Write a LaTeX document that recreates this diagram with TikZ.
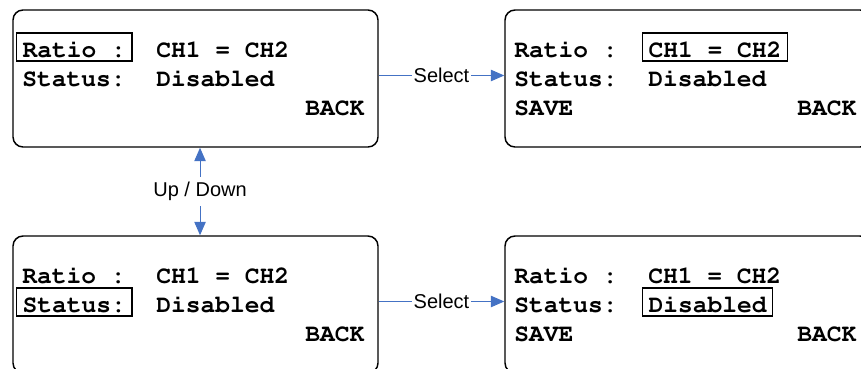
\documentclass[tikz,border=0pt]{standalone}
\usepackage[T1,TU]{fontenc}
\usepackage{fontspec}
\setmainfont{Liberation Sans}
\newcommand\lcdfont{\fontencoding{T1}\fontfamily{pcr}\fontseries{b}\selectfont}
\usetikzlibrary{arrows.meta}
\definecolor{link}{HTML}{4472C4}

\begin{document}
\begin{tikzpicture}[x=0.75pt,y=-0.75pt,
    screen/.style={draw,rounded corners=7.5pt,line width=1.1pt,minimum width=273.75pt,minimum height=102.75pt},
    lcd/.style={font=\fontsize{18.45}{20}\lcdfont,anchor=base west,inner sep=0pt},
    cursor/.style={lcd,draw,line width=0.9pt,inner xsep=4.5pt,inner ysep=3pt,text height=15pt,text depth=0pt},
    >={Triangle[length=10pt,width=8.5pt]},
    flow/.style={draw=link,line width=0.8pt},
    tag/.style={fill=white,font=\fontsize{15}{17}\selectfont,inner xsep=1pt,inner ysep=4pt}]
    \useasboundingbox (0,0) rectangle (861,368);
    \node[screen] (menuA) at (195.5,78.5) {};
    \node[screen] (editA) at (687.5,78.5) {};
    \node[screen] (menuB) at (195.5,304.5) {};
    \node[screen] (editB) at (687.5,304.5) {};
    % cursor on Ratio
    \node[cursor] (keyA1) at (16,57) {Ratio :};  \node[lcd] (valA1) at (156,57) {CH1 = CH2};
    \node[lcd] (keyA2) at (22,86) {Status:};     \node[lcd] (valA2) at (156,86) {Disabled};
    \node[lcd] (backA) at (305,115) {BACK};
    % editing Ratio
    \node[lcd] (keyC1) at (514,57) {Ratio :};    \node[cursor] (valC1) at (642,57) {CH1 = CH2};
    \node[lcd] (keyC2) at (514,86) {Status:};    \node[lcd] (valC2) at (648,86) {Disabled};
    \node[lcd] (saveC) at (514,115) {SAVE};      \node[lcd] (backC) at (797,115) {BACK};
    % cursor on Status
    \node[lcd] (keyB1) at (22,283) {Ratio :};    \node[lcd] (valB1) at (156,283) {CH1 = CH2};
    \node[cursor] (keyB2) at (16,312) {Status:}; \node[lcd] (valB2) at (156,312) {Disabled};
    \node[lcd] (backB) at (305,341) {BACK};
    % editing Status
    \node[lcd] (keyD1) at (514,283) {Ratio :};   \node[lcd] (valD1) at (648,283) {CH1 = CH2};
    \node[lcd] (keyD2) at (514,312) {Status:};   \node[cursor] (valD2) at (642,312) {Disabled};
    \node[lcd] (saveD) at (514,341) {SAVE};      \node[lcd] (backD) at (797,341) {BACK};
    \draw[flow,->] ([yshift=2.25pt]menuA.east) -- node[tag] {Select} ([yshift=2.25pt]editA.west);
    \draw[flow,->] ([yshift=2.25pt]menuB.east) -- node[tag] {Select} ([yshift=2.25pt]editB.west);
    \draw[flow,<->] ([xshift=3.4pt]menuA.south) -- node[tag] {Up / Down} ([xshift=3.4pt]menuB.north);
\end{tikzpicture}
\end{document}
